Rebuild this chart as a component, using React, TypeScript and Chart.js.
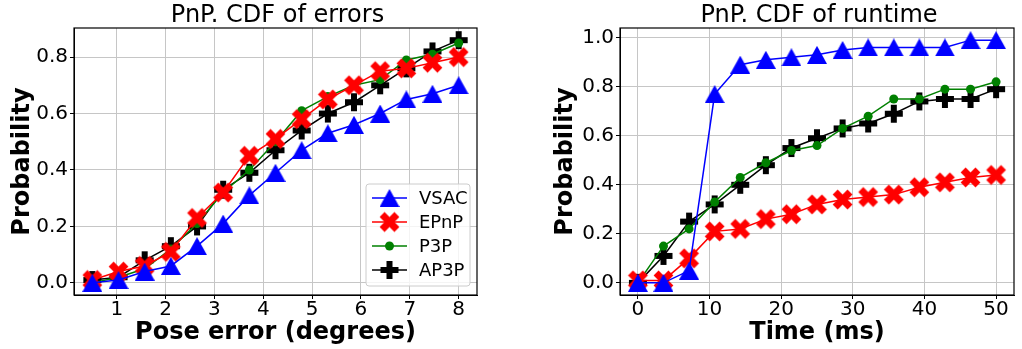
import React, { useEffect, useRef } from 'react';
import { Chart, registerables } from 'chart.js';

Chart.register(...registerables);

// ---------- data ----------
const seriesNames = ['VSAC', 'EPnP', 'P3P', 'AP3P'];
const seriesColors = ['#0000ff', '#ff0000', '#008000', '#000000'];

// Left chart: CDF of pose errors
const errorX = [0.5, 1.036, 1.571, 2.107, 2.643, 3.179, 3.714, 4.25, 4.786, 5.321, 5.857, 6.393, 6.929, 7.464, 8.0];
const errVSAC = [0.0, 0.01, 0.04, 0.06, 0.13, 0.21, 0.31, 0.39, 0.47, 0.53, 0.56, 0.6, 0.65, 0.67, 0.7];
const errEPnP = [0.01, 0.04, 0.06, 0.11, 0.23, 0.32, 0.45, 0.51, 0.58, 0.65, 0.7, 0.75, 0.76, 0.78, 0.8];
const errP3P = [0.0, 0.02, 0.05, 0.12, 0.21, 0.32, 0.4, 0.5, 0.61, 0.66, 0.7, 0.72, 0.79, 0.81, 0.85];
const errAP3P = [0.01, 0.02, 0.08, 0.13, 0.2, 0.33, 0.39, 0.47, 0.54, 0.6, 0.64, 0.7, 0.76, 0.82, 0.86];
const errXTicks = [1, 2, 3, 4, 5, 6, 7, 8];
const errXTickLabels = ['1', '2', '3', '4', '5', '6', '7', '8'];
const errYTicks = [0, 0.2, 0.4, 0.6, 0.8];
const errYTickLabels = ['0.0', '0.2', '0.4', '0.6', '0.8'];

// Right chart: CDF of runtime
const timeX = [0, 3.571, 7.143, 10.714, 14.286, 17.857, 21.429, 25, 28.571, 32.143, 35.714, 39.286, 42.857, 46.429, 50];
const timeVSAC = [0.0, 0.0, 0.05, 0.77, 0.89, 0.91, 0.92, 0.93, 0.95, 0.96, 0.96, 0.96, 0.96, 0.99, 0.99];
const timeEPnP = [0.01, 0.01, 0.1, 0.21, 0.22, 0.26, 0.28, 0.32, 0.34, 0.35, 0.36, 0.39, 0.41, 0.43, 0.44];
const timeP3P = [0.0, 0.15, 0.22, 0.33, 0.43, 0.49, 0.54, 0.56, 0.63, 0.68, 0.75, 0.75, 0.79, 0.79, 0.82];
const timeAP3P = [0.0, 0.11, 0.25, 0.32, 0.4, 0.48, 0.55, 0.59, 0.63, 0.65, 0.69, 0.74, 0.75, 0.75, 0.79];
const timeXTicks = [0, 10, 20, 30, 40, 50];
const timeXTickLabels = ['0', '10', '20', '30', '40', '50'];
const timeYTicks = [0, 0.2, 0.4, 0.6, 0.8, 1.0];
const timeYTickLabels = ['0.0', '0.2', '0.4', '0.6', '0.8', '1.0'];

const FONT = "'DejaVu Sans', sans-serif";

// ---------- marker glyphs ----------
function makeCanvas(w: number, h: number) {
  const c = document.createElement('canvas');
  c.width = w;
  c.height = h;
  return c;
}

function makeTriangle(color: string, w: number, h: number) {
  const c = makeCanvas(w, h);
  const ctx = c.getContext('2d')!;
  ctx.fillStyle = color;
  ctx.beginPath();
  ctx.moveTo(w / 2, 0);
  ctx.lineTo(w, h);
  ctx.lineTo(0, h);
  ctx.closePath();
  ctx.fill();
  return c;
}

function plusPath(ctx: CanvasRenderingContext2D, s: number) {
  const a = s / 2;
  const t = s / 6;
  ctx.beginPath();
  ctx.moveTo(-t, -a);
  ctx.lineTo(t, -a);
  ctx.lineTo(t, -t);
  ctx.lineTo(a, -t);
  ctx.lineTo(a, t);
  ctx.lineTo(t, t);
  ctx.lineTo(t, a);
  ctx.lineTo(-t, a);
  ctx.lineTo(-t, t);
  ctx.lineTo(-a, t);
  ctx.lineTo(-a, -t);
  ctx.lineTo(-t, -t);
  ctx.closePath();
}

function makePlus(color: string, s: number, rot: number) {
  const size = Math.ceil(s * 1.0) + 2;
  const c = makeCanvas(size, size);
  const ctx = c.getContext('2d')!;
  ctx.translate(size / 2, size / 2);
  ctx.rotate(rot);
  ctx.fillStyle = color;
  plusPath(ctx, s);
  ctx.fill();
  return c;
}

// ---------- plugin for titles, frame, legend ----------
const decorPlugin = {
  id: 'decor',
  afterDraw(chart: any) {
    const o = chart.options.plugins.decor;
    const ctx: CanvasRenderingContext2D = chart.ctx;
    const ca = chart.chartArea;
    const cx = (ca.left + ca.right) / 2;
    ctx.save();
    // frame
    ctx.strokeStyle = '#000';
    ctx.lineWidth = 1.2;
    ctx.strokeRect(ca.left, ca.top, ca.right - ca.left, ca.bottom - ca.top);
    ctx.fillStyle = '#000';
    // title
    ctx.font = `24px ${FONT}`;
    ctx.textAlign = 'center';
    ctx.textBaseline = 'alphabetic';
    ctx.fillText(o.title, cx + 2, 22);
    // x title
    ctx.font = `bold 24px ${FONT}`;
    ctx.fillText(o.xTitle, cx, 339);
    // y title
    ctx.save();
    ctx.translate(o.yTitleX, (ca.top + ca.bottom) / 2);
    ctx.rotate(-Math.PI / 2);
    ctx.textBaseline = 'middle';
    ctx.fillText(o.yTitle, 0, 0);
    ctx.restore();
    // legend
    if (o.legend) {
      const L = o.legend;
      ctx.beginPath();
      const r = 3;
      const x0 = L.x, y0 = L.y, w = L.w, h = L.h;
      ctx.moveTo(x0 + r, y0);
      ctx.arcTo(x0 + w, y0, x0 + w, y0 + h, r);
      ctx.arcTo(x0 + w, y0 + h, x0, y0 + h, r);
      ctx.arcTo(x0, y0 + h, x0, y0, r);
      ctx.arcTo(x0, y0, x0 + w, y0, r);
      ctx.closePath();
      ctx.fillStyle = 'rgba(255,255,255,0.8)';
      ctx.fill();
      ctx.strokeStyle = '#cccccc';
      ctx.lineWidth = 1;
      ctx.stroke();
      chart.data.datasets.forEach((ds: any, i: number) => {
        const yy = L.y + 14 + i * 24;
        ctx.strokeStyle = ds.borderColor;
        ctx.lineWidth = 1.5;
        ctx.beginPath();
        ctx.moveTo(L.x + 6, yy);
        ctx.lineTo(L.x + 41, yy);
        ctx.stroke();
        const mx = L.x + 23.5;
        const ps = ds.pointStyle;
        if (ps && typeof ps === 'object') {
          ctx.drawImage(ps, mx - ps.width / 2, yy - ps.height / 2);
        } else {
          ctx.fillStyle = ds.pointBackgroundColor;
          ctx.beginPath();
          ctx.arc(mx, yy, ds.pointRadius, 0, Math.PI * 2);
          ctx.fill();
        }
        ctx.fillStyle = '#000';
        ctx.font = `18px ${FONT}`;
        ctx.textAlign = 'left';
        ctx.textBaseline = 'middle';
        ctx.fillText(ds.label, L.x + 53, yy + 1);
      });
    }
    ctx.restore();
  },
};

interface PanelProps {
  xs: number[];
  series: number[][];
  xMin: number;
  xMax: number;
  xTicks: number[];
  xTickLabels: string[];
  yMin: number;
  yMax: number;
  yTicks: number[];
  yTickLabels: string[];
  title: string;
  xTitle: string;
  yTitleX: number;
  width: number;
  plotLeft: number;
  padRight: number;
  legend?: { x: number; y: number; w: number; h: number };
}

function Panel(p: PanelProps) {
  const ref = useRef<HTMLCanvasElement>(null);
  useEffect(() => {
    const markers: any[] = [
      makeTriangle(seriesColors[0], 20, 18),
      makePlus(seriesColors[1], 21, Math.PI / 4),
      'circle',
      makePlus(seriesColors[3], 18, 0),
    ];
    const datasets = seriesNames.map((name, i) => ({
      label: name,
      data: p.xs.map((x, j) => ({ x, y: p.series[i][j] })),
      borderColor: seriesColors[i],
      backgroundColor: seriesColors[i],
      pointBackgroundColor: seriesColors[i],
      pointBorderColor: seriesColors[i],
      pointBorderWidth: 0,
      borderWidth: 1.5,
      pointStyle: markers[i],
      pointRadius: i === 2 ? 4.5 : 8,
      tension: 0,
      clip: false as any,
    }));
    const tickFont = { family: FONT, size: 20, lineHeight: 1 };
    const chart = new Chart(ref.current!, {
      type: 'line',
      data: { datasets },
      plugins: [decorPlugin],
      options: {
        animation: false,
        responsive: false,
        devicePixelRatio: 1,
        events: [],
        layout: { padding: { top: 28, left: 0, right: p.padRight, bottom: 0 } },
        plugins: {
          legend: { display: false },
          tooltip: { enabled: false },
          title: { display: false },
          decor: {
            title: p.title,
            xTitle: p.xTitle,
            yTitle: 'Probability',
            yTitleX: p.yTitleX,
            legend: p.legend,
          },
        } as any,
        scales: {
          x: {
            type: 'linear',
            min: p.xMin,
            max: p.xMax,
            afterBuildTicks: (s: any) => {
              s.ticks = p.xTicks.map((v) => ({ value: v }));
            },
            afterFit: (s: any) => {
              s.height = 54;
            },
            ticks: {
              font: tickFont,
              color: '#000',
              padding: 1,
              maxRotation: 0,
              autoSkip: false,
              callback: (_v: any, i: number) => p.xTickLabels[i],
            },
            grid: { color: '#c6c6c6', lineWidth: 1, tickLength: 4, tickColor: '#000', drawTicks: true },
            border: { display: true, color: '#000', width: 1 },
          },
          y: {
            type: 'linear',
            min: p.yMin,
            max: p.yMax,
            afterBuildTicks: (s: any) => {
              s.ticks = p.yTicks.map((v) => ({ value: v }));
            },
            afterFit: (s: any) => {
              s.width = p.plotLeft;
            },
            ticks: {
              font: tickFont,
              color: '#000',
              padding: 2,
              autoSkip: false,
              callback: (_v: any, i: number) => p.yTickLabels[i],
            },
            grid: { color: '#c6c6c6', lineWidth: 1, tickLength: 4, tickColor: '#000', drawTicks: true },
            border: { display: true, color: '#000', width: 1 },
          },
        },
      },
    });
    return () => chart.destroy();
  }, []);
  return <canvas ref={ref} width={p.width} height={349} style={{ display: 'block', width: p.width, height: 349 }} />;
}

export default function App() {
  useEffect(() => {
    document.body.style.margin = '0';
  }, []);
  return (
    <div style={{ position: 'absolute', left: 0, top: 0, width: 1022, height: 349, background: '#fff' }}>
      <div style={{ position: 'absolute', left: 0, top: 0 }}>
        <Panel
          xs={errorX}
          series={[errVSAC, errEPnP, errP3P, errAP3P]}
          xMin={0.125}
          xMax={8.375}
          xTicks={errXTicks}
          xTickLabels={errXTickLabels}
          yMin={-0.043}
          yMax={0.903}
          yTicks={errYTicks}
          yTickLabels={errYTickLabels}
          title="PnP. CDF of errors"
          xTitle="Pose error (degrees)"
          yTitleX={22.5}
          width={490}
          plotLeft={74}
          padRight={13}
          legend={{ x: 366, y: 184, w: 104, h: 102 }}
        />
      </div>
      <div style={{ position: 'absolute', left: 532, top: 0 }}>
        <Panel
          xs={timeX}
          series={[timeVSAC, timeEPnP, timeP3P, timeAP3P]}
          xMin={-2.5}
          xMax={52.5}
          xTicks={timeXTicks}
          xTickLabels={timeXTickLabels}
          yMin={-0.0495}
          yMax={1.0395}
          yTicks={timeYTicks}
          yTickLabels={timeYTickLabels}
          title="PnP. CDF of runtime"
          xTitle="Time (ms)"
          yTitleX={34}
          width={490}
          plotLeft={88}
          padRight={1}
        />
      </div>
    </div>
  );
}
